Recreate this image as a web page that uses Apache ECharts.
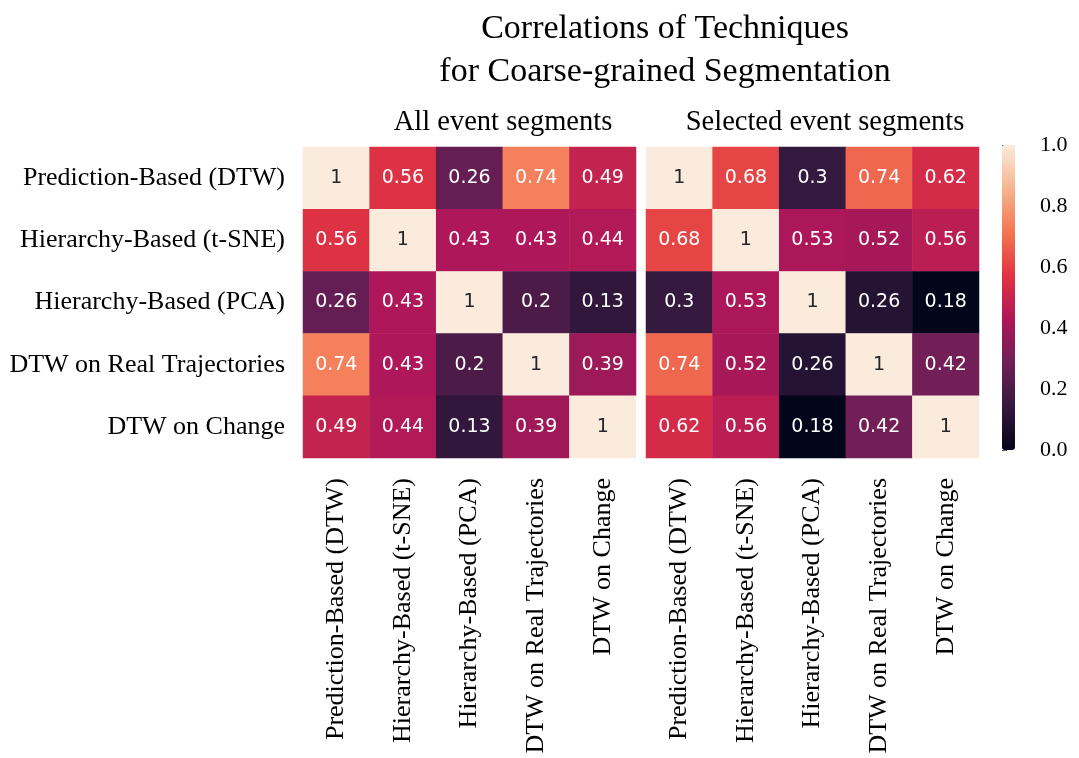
<!DOCTYPE html>
<html>
<head>
<meta charset="utf-8">
<title>Correlations of Techniques</title>
<script src="https://cdn.jsdelivr.net/npm/echarts@6/dist/echarts.min.js"></script>
<style>
  html, body { margin: 0; padding: 0; background: #fff; }
  #chart { width: 1079px; height: 758px; }
</style>
</head>
<body>
<div id="chart"></div>
<script>
  // 行列共用的技术名称
  const techniques = [
    'Prediction-Based (DTW)',
    'Hierarchy-Based (t-SNE)',
    'Hierarchy-Based (PCA)',
    'DTW on Real Trajectories',
    'DTW on Change'
  ]
  // 全部事件片段的相关系数
  const allSegments = [
    [1, 0.56, 0.26, 0.74, 0.49],
    [0.56, 1, 0.43, 0.43, 0.44],
    [0.26, 0.43, 1, 0.2, 0.13],
    [0.74, 0.43, 0.2, 1, 0.39],
    [0.49, 0.44, 0.13, 0.39, 1]
  ]
  // 选中事件片段的相关系数
  const selectedSegments = [
    [1, 0.68, 0.3, 0.74, 0.62],
    [0.68, 1, 0.53, 0.52, 0.56],
    [0.3, 0.53, 1, 0.26, 0.18],
    [0.74, 0.52, 0.26, 1, 0.42],
    [0.62, 0.56, 0.18, 0.42, 1]
  ]
  const panelTitles = ['All event segments', 'Selected event segments']
  // 色条刻度 0.0 ~ 1.0
  const colorbarMin = 0
  const colorbarMax = 1
  const colorbarStep = 0.2

  // seaborn rocket
  const rocket = ['#03051a', '#35193e', '#701f57', '#ad1759', '#e13342', '#f37651', '#f6b48f', '#faebdd']
  const serif = '"Liberation Serif", "Times New Roman", serif'

  function toCells(matrix) {
    let cells = []
    matrix.forEach((row, y) => {
      row.forEach((v, x) => {
        cells.push({
          value: [x, y, v],
          label: { color: v >= 0.9 ? '#262626' : '#ffffff' }
        })
      })
    })
    return cells
  }

  function catX(gridIndex) {
    return {
      type: 'category',
      gridIndex: gridIndex,
      data: techniques,
      axisLine: { show: false },
      axisTick: { length: 5, alignWithLabel: true, lineStyle: { color: '#555' } },
      splitLine: { show: false },
      splitArea: { show: false },
      axisLabel: {
        rotate: 90, interval: 0, margin: 20,
        color: '#000', fontFamily: serif, fontSize: 26
      }
    }
  }

  function catY(gridIndex, showLabel) {
    return {
      type: 'category',
      gridIndex: gridIndex,
      data: techniques,
      inverse: true,
      axisLine: { show: false },
      axisTick: { length: showLabel ? 5 : 3, alignWithLabel: true, lineStyle: { color: '#555' } },
      splitLine: { show: false },
      splitArea: { show: false },
      axisLabel: {
        show: showLabel, interval: 0, margin: 18,
        color: '#000', fontFamily: serif, fontSize: 26
      }
    }
  }

  function heatSeries(index, matrix) {
    return {
      type: 'heatmap',
      xAxisIndex: index,
      yAxisIndex: index,
      data: toCells(matrix),
      label: {
        show: true,
        fontFamily: '"DejaVu Sans", sans-serif',
        fontSize: 19,
        formatter: p => String(p.value[2])
      },
      emphasis: { disabled: true }
    }
  }

  let chart = echarts.init(document.getElementById('chart'))
  chart.setOption({
    backgroundColor: '#fff',
    animation: false,
    graphic: [
      { type: 'text', x: 665, y: 29, style: { text: 'Correlations of Techniques', font: '34px ' + serif, fill: '#000', align: 'center', verticalAlign: 'middle', textAlign: 'center', textVerticalAlign: 'middle' } },
      { type: 'text', x: 665, y: 72, style: { text: 'for Coarse-grained Segmentation', font: '34px ' + serif, fill: '#000', align: 'center', verticalAlign: 'middle', textAlign: 'center', textVerticalAlign: 'middle' } },
      { type: 'text', x: 503, y: 123, style: { text: panelTitles[0], font: '28.5px ' + serif, fill: '#000', align: 'center', verticalAlign: 'middle', textAlign: 'center', textVerticalAlign: 'middle' } },
      { type: 'text', x: 825, y: 123, style: { text: panelTitles[1], font: '28.5px ' + serif, fill: '#000', align: 'center', verticalAlign: 'middle', textAlign: 'center', textVerticalAlign: 'middle' } }
    ],
    grid: [
      { left: 303, top: 147, width: 333, height: 311, outerBoundsMode: 'none' },
      { left: 646, top: 147, width: 333, height: 311, outerBoundsMode: 'none' },
      { left: 1002, top: 145, width: 13, height: 305, outerBoundsMode: 'none' }
    ],
    xAxis: [
      catX(0),
      catX(1),
      { type: 'value', gridIndex: 2, show: false, min: 0, max: 1 }
    ],
    yAxis: [
      catY(0, true),
      catY(1, false),
      {
        type: 'value', gridIndex: 2, position: 'right',
        min: colorbarMin, max: colorbarMax, interval: colorbarStep,
        axisLine: { show: false },
        splitLine: { show: false },
        axisTick: { show: true, length: 5, lineStyle: { color: '#555' } },
        axisLabel: {
          margin: 25, color: '#000', fontFamily: serif, fontSize: 22,
          formatter: v => v.toFixed(1)
        }
      }
    ],
    visualMap: [
      {
        type: 'continuous',
        seriesIndex: 0,
        min: colorbarMin,
        max: colorbarMax,
        calculable: false,
        hoverLink: false,
        left: 1002,
        top: 145,
        padding: 0,
        itemWidth: 13,
        itemHeight: 305,
        inRange: { color: rocket }
      },
      {
        type: 'continuous',
        seriesIndex: 1,
        show: false,
        min: Math.min(...selectedSegments.flat()),
        max: Math.max(...selectedSegments.flat()),
        inRange: { color: rocket }
      }
    ],
    series: [
      heatSeries(0, allSegments),
      heatSeries(1, selectedSegments)
    ]
  })
</script>
</body>
</html>
